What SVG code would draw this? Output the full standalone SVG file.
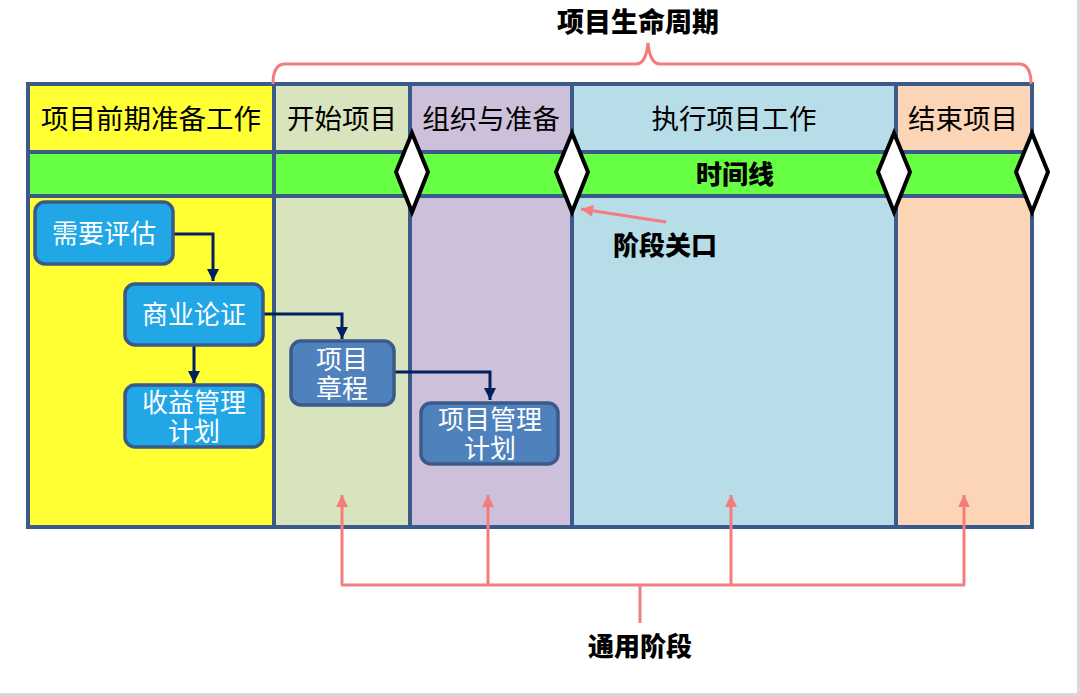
<svg xmlns="http://www.w3.org/2000/svg" width="1080" height="696" viewBox="0 0 1080 696">
<style>
.grid{fill:none;stroke:#3b5a8a;stroke-width:4}
.hdr{font-family:"Noto Sans CJK SC","Noto Sans",sans-serif;font-size:27.5px;fill:#000;text-anchor:middle}
.bold{font-family:"Noto Sans CJK SC","Noto Sans",sans-serif;font-size:26px;font-weight:900;fill:#000;text-anchor:middle}
.node1{fill:#21a6e6;stroke:#3b5a8a;stroke-width:3.5}
.node2{fill:#4f81bd;stroke:#3b5a8a;stroke-width:3.5}
.nt{font-family:"Noto Sans CJK SC","Noto Sans",sans-serif;font-size:26px;fill:#fff;text-anchor:middle}
.gate{fill:#fff;stroke:#000;stroke-width:4;stroke-linejoin:miter}
.flow{fill:none;stroke:#002060;stroke-width:3}
.pink{fill:none;stroke:#f47c7c;stroke-width:3}
</style>
<defs>
<marker id="ah" viewBox="0 0 10 10" refX="10" refY="5" markerWidth="4" markerHeight="4" orient="auto" markerUnits="strokeWidth">
<path d="M0,0 L10,5 L0,10 Z" fill="#002060"/>
</marker>
<marker id="ap" viewBox="0 0 10 10" refX="10" refY="5" markerWidth="4.5" markerHeight="4" orient="auto" markerUnits="strokeWidth">
<path d="M0,0 L10,5 L0,10 Z" fill="#f47c7c"/>
</marker>
</defs>
<rect x="0" y="0" width="1080" height="696" fill="#fff"/>
<rect x="1077" y="0" width="3" height="696" fill="#d9d9d9"/>
<rect x="0" y="693" width="1080" height="3" fill="#d9d9d9"/>

<g id="columns">
<rect x="28" y="84" width="246" height="443" fill="#ffff33"/>
<rect x="274" y="84" width="136" height="443" fill="#d7e4bd"/>
<rect x="410" y="84" width="162" height="443" fill="#ccc0da"/>
<rect x="572" y="84" width="324" height="443" fill="#b7dde8"/>
<rect x="896" y="84" width="136" height="443" fill="#fbd5b5"/>
<rect x="28" y="152" width="1004" height="44" fill="#66ff44"/>
<rect class="grid" x="28" y="84" width="1004" height="443"/>
<line class="grid" x1="28" y1="152" x2="1032" y2="152"/>
<line class="grid" x1="28" y1="196" x2="1032" y2="196"/>
<line class="grid" x1="274" y1="84" x2="274" y2="527"/>
<line class="grid" x1="410" y1="84" x2="410" y2="527"/>
<line class="grid" x1="572" y1="84" x2="572" y2="527"/>
<line class="grid" x1="896" y1="84" x2="896" y2="527"/>
<text class="hdr" x="151" y="129">项目前期准备工作</text>
<text class="hdr" x="342" y="129">开始项目</text>
<text class="hdr" x="491" y="129">组织与准备</text>
<text class="hdr" x="734" y="129">执行项目工作</text>
<text class="hdr" x="963" y="129">结束项目</text>
<text class="bold" x="735" y="184">时间线</text>
</g>

<g id="gates">
<polygon class="gate" points="412,133 428,172 412,212 396,172"/>
<polygon class="gate" points="572,133 588,172 572,212 556,172"/>
<polygon class="gate" points="894,133 910,172 894,212 878,172"/>
<polygon class="gate" points="1032,133 1048,172 1032,212 1016,172"/>
</g>

<g id="lifecycle">
<path class="pink" d="M273,84 Q273,64 285,64 L636,64 Q646,64 648,43 Q650,64 660,64 L1019,64 Q1031,64 1031,84"/>
<text class="bold" x="638" y="32" style="font-size:27px">项目生命周期</text>
</g>

<g id="connectors">
<polyline class="flow" points="173,234 213,234 213,281" marker-end="url(#ah)"/>
<polyline class="flow" points="194,345 194,383" marker-end="url(#ah)"/>
<polyline class="flow" points="263,314 342,314 342,339" marker-end="url(#ah)"/>
<polyline class="flow" points="394,372 490,372 490,400" marker-end="url(#ah)"/>
<line class="pink" x1="666" y1="222" x2="581" y2="209" marker-end="url(#ap)"/>
<polyline class="pink" points="341,585 965,585"/>
<line class="pink" x1="342" y1="585" x2="342" y2="495" marker-end="url(#ap)"/>
<line class="pink" x1="488" y1="585" x2="488" y2="495" marker-end="url(#ap)"/>
<line class="pink" x1="731" y1="585" x2="731" y2="495" marker-end="url(#ap)"/>
<line class="pink" x1="964" y1="585" x2="964" y2="495" marker-end="url(#ap)"/>
<line class="pink" x1="640" y1="585" x2="640" y2="623"/>
</g>

<g id="n-xuyaopinggu">
<rect class="node1" x="35" y="202" width="138" height="62" rx="10"/>
<text class="nt" x="104" y="243">需要评估</text>
</g>
<g id="n-shangyelunzheng">
<rect class="node1" x="125" y="284" width="138" height="61" rx="10"/>
<text class="nt" x="194" y="324">商业论证</text>
</g>
<g id="n-shouyi">
<rect class="node1" x="125" y="385" width="138" height="62" rx="10"/>
<text class="nt" x="194" y="412">收益管理<tspan x="194" dy="29">计划</tspan></text>
</g>
<g id="n-zhangcheng">
<rect class="node2" x="291" y="341" width="103" height="64" rx="10"/>
<text class="nt" x="342" y="369">项目<tspan x="342" dy="29">章程</tspan></text>
</g>
<g id="n-guanlijihua">
<rect class="node2" x="421" y="403" width="137" height="61" rx="10"/>
<text class="nt" x="490" y="429">项目管理<tspan x="490" dy="29">计划</tspan></text>
</g>

<g id="labels">
<text class="bold" x="665" y="255">阶段关口</text>
<text class="bold" x="640" y="656">通用阶段</text>
</g>
</svg>
